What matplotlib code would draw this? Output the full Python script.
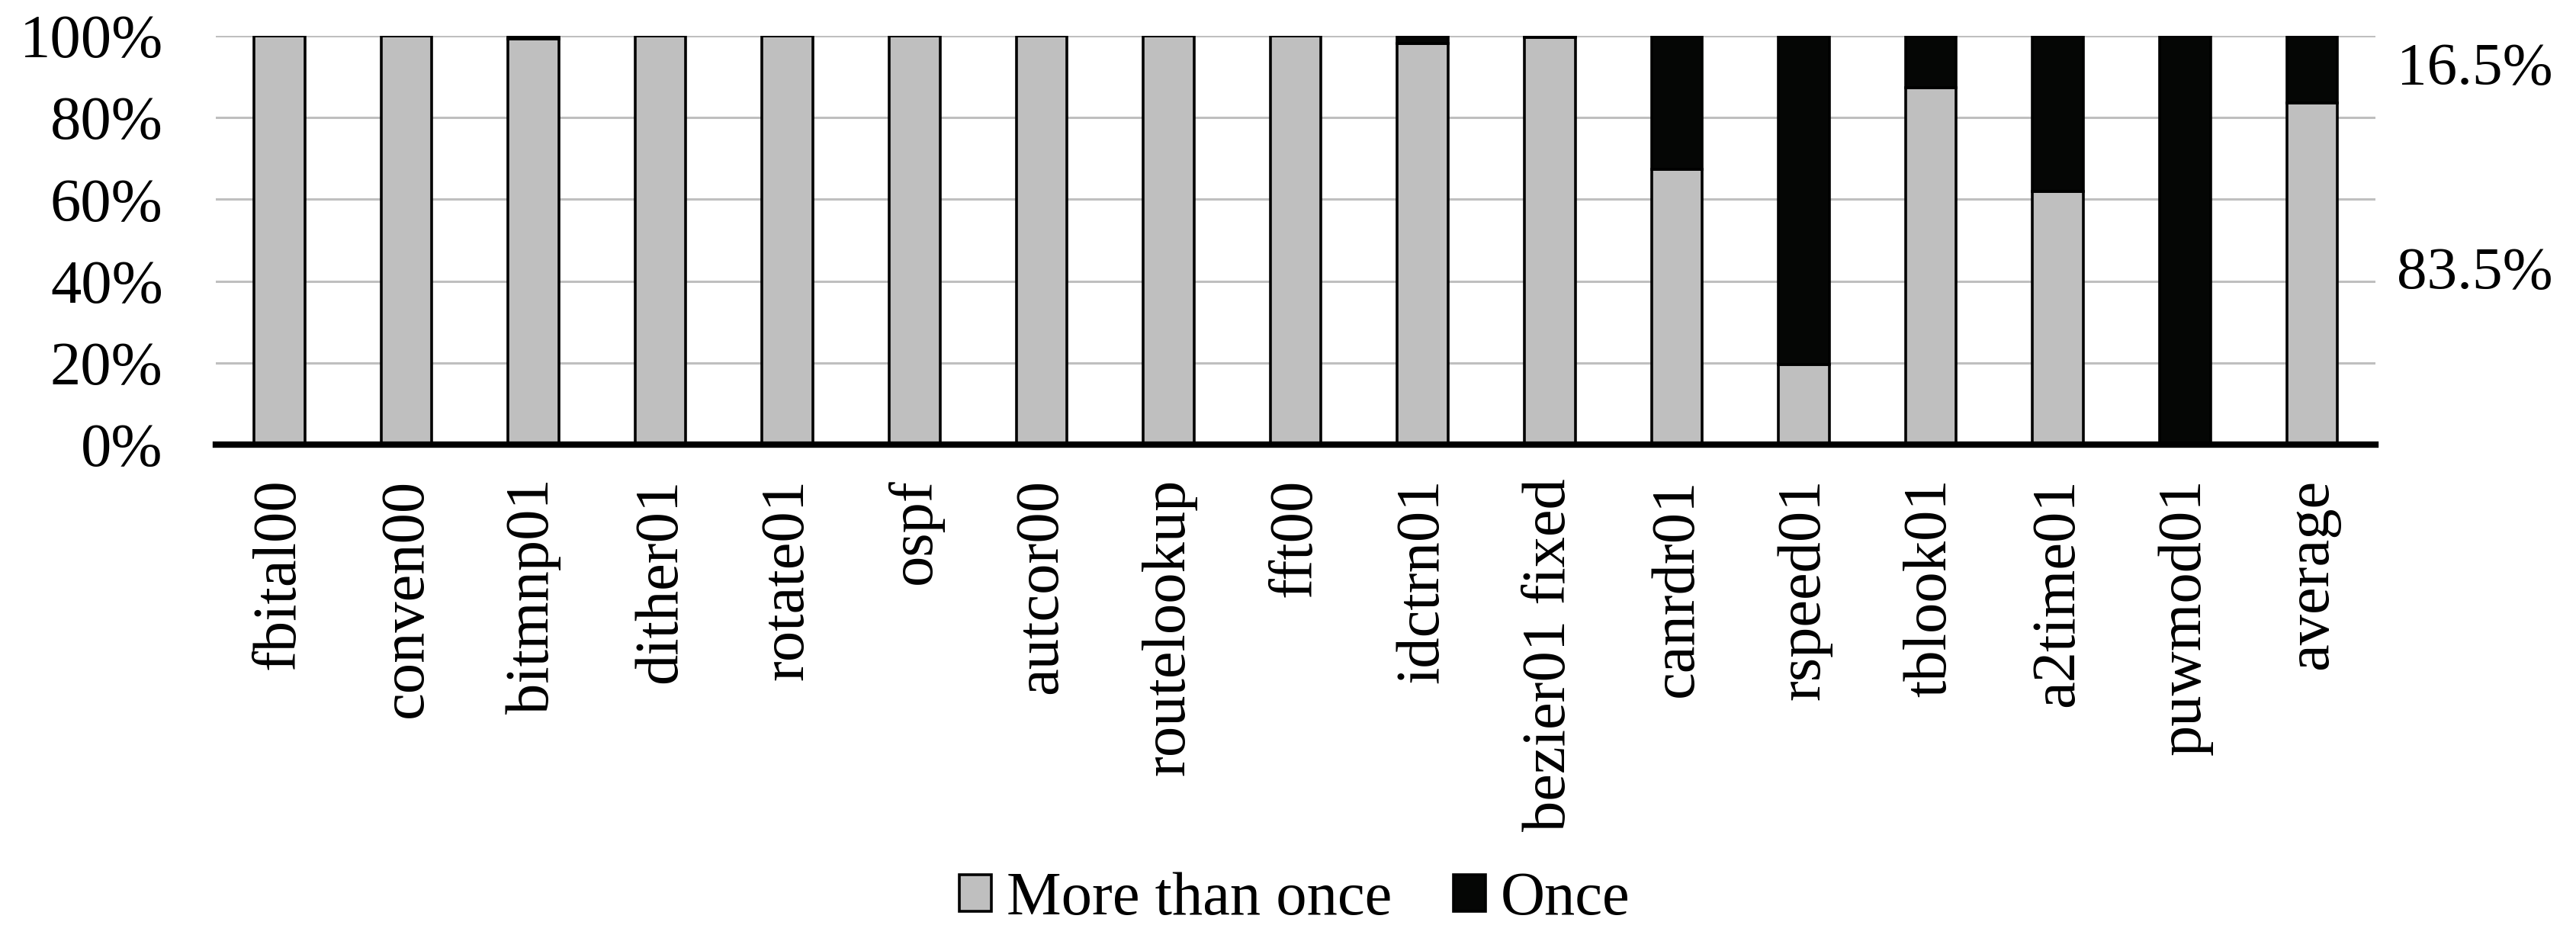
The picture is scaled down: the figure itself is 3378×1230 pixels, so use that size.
import matplotlib
matplotlib.use('Agg')
import matplotlib.pyplot as plt
import matplotlib.transforms as mtransforms
import numpy as np

plt.rcParams['font.family'] = ['Liberation Serif', 'DejaVu Serif']

benchmarks = ['fbital00', 'conven00', 'bitmnp01', 'dither01', 'rotate01', 'ospf',
              'autcor00', 'routelookup', 'fft00', 'idctrn01', 'bezier01 fixed',
              'canrdr01', 'rspeed01', 'tblook01', 'a2time01', 'puwmod01', 'average']
more_than_once = [100, 100, 99.3, 100, 100, 100, 100, 100, 100, 98.2, 99.6,
                  67.3, 19.6, 87.4, 62.0, 0, 83.5]
once = [100 - v for v in more_than_once]
yticks = [0, 20, 40, 60, 80, 100]

gray = '#bfbfbf'
black = '#050605'

fig = plt.figure(figsize=(33.78, 12.30), dpi=100)
ax = fig.add_axes([0.0838, 0.526, 0.9222 - 0.0838, 0.9618 - 0.526])

x = np.arange(len(benchmarks))
ax.bar(x, more_than_once, 0.4, color=gray, edgecolor='black', linewidth=2.6,
       label='More than once', zorder=3)
ax.bar(x, once, 0.4, bottom=more_than_once, color=black, edgecolor='black',
       linewidth=2.6, label='Once', zorder=3)

ax.set_xlim(-0.5, len(benchmarks) - 0.5)
ax.set_ylim(0, 100)
ax.set_yticks(yticks)
ax.set_yticklabels([f'{v}%' for v in yticks], fontsize=58)
ax.set_xticks(x)
ax.set_xticklabels(benchmarks, rotation=90, fontsize=58)
ax.tick_params(axis='y', length=0, pad=50)
ax.tick_params(axis='x', length=0, pad=32)
ax.yaxis.grid(True, color=gray, linewidth=2.2, zorder=0)
ax.set_axisbelow(True)
for s in ['left', 'right', 'top']:
    ax.spines[s].set_visible(False)
ax.spines['bottom'].set_linewidth(6)
ax.spines['bottom'].set_color('black')
ax.spines['bottom'].set_zorder(4)

# percentages of the average bar, printed to the right of the plot
trans = mtransforms.blended_transform_factory(ax.transAxes, ax.transData)
avg_more = more_than_once[-1]
avg_once = once[-1]
ax.annotate(f'{avg_once:.1f}%', xy=(1, avg_more + avg_once / 2), xycoords=trans,
            xytext=(20, 0), textcoords='offset points', ha='left', va='center',
            fontsize=57)
ax.annotate(f'{avg_more:.1f}%', xy=(1, avg_more / 2), xycoords=trans,
            xytext=(20, 0), textcoords='offset points', ha='left', va='center',
            fontsize=57)

fig.legend(loc='center', bbox_to_anchor=(0.5027, 0.0407), ncol=2, frameon=False,
           fontsize=58, handlelength=0.52, handleheight=0.55, handletextpad=0.25,
           columnspacing=1.0)

fig.savefig('out.png', dpi=100)
